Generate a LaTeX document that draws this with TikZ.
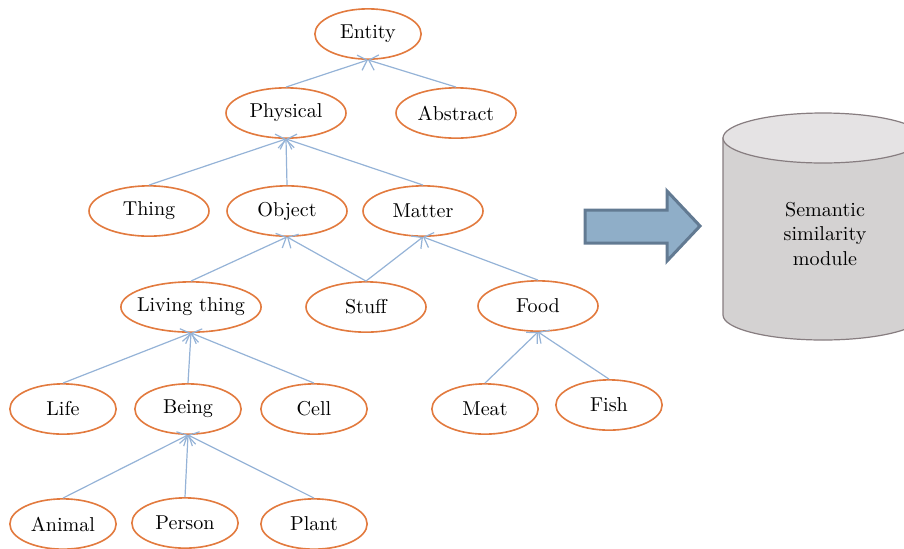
\documentclass[tikz,border=0pt]{standalone}
\usepackage{tikz}
\usetikzlibrary{shapes.geometric,arrows.meta}
\definecolor{nodeOrange}{RGB}{226,122,62}
\definecolor{edgeBlue}{RGB}{149,179,215}
\definecolor{arrowFill}{RGB}{143,174,200}
\definecolor{arrowDraw}{RGB}{98,122,146}
\definecolor{cylFill}{RGB}{212,210,210}
\definecolor{cylTop}{RGB}{229,227,228}
\definecolor{cylDraw}{RGB}{135,125,128}
\tikzset{
    concept/.style={ellipse, draw=nodeOrange, thick, minimum width=2.1cm, minimum height=0.88cm, inner sep=1pt},
    small/.style={concept, minimum width=1.86cm},
    wide/.style={concept, minimum width=2.45cm, inner xsep=-2.2pt},
    isa/.style={draw=edgeBlue, semithick, -{Straight Barb[length=4pt,width=8pt]}}
}
\begin{document}
\begin{tikzpicture}[x=0.0175cm, y=-0.0175cm]
        \useasboundingbox (0,0) rectangle (904,548);
        \clip (0,0) rectangle (904,548);
        % concept tree
        \node[small] (entity) at (368,34) {Entity};
        \node[concept] (physical) at (286,113) {Physical};
        \node[concept] (abstract) at (456,113) {Abstract};
        \node[concept] (thing) at (149,211) {Thing};
        \node[concept] (object) at (287,211) {Object};
        \node[concept] (matter) at (423,211) {Matter};
        \node[wide] (living) at (191,307) {Living thing};
        \node[concept] (stuff) at (366,307) {Stuff};
        \node[concept] (food) at (538,306) {Food};
        \node[small] (life) at (63,409) {Life};
        \node[small] (being) at (188,409) {Being};
        \node[small] (cell) at (314,409) {Cell};
        \node[small] (meat) at (485,409) {Meat};
        \node[small] (fish) at (609,405) {Fish};
        \node[small] (animal) at (63,524) {Animal};
        \node[small] (person) at (185,523) {Person};
        \node[small] (plant) at (314,524) {Plant};
        \draw[isa] (physical.north) -- (entity.south);
        \draw[isa] (abstract.north) -- (entity.south);
        \draw[isa] (thing.north) -- (physical.south);
        \draw[isa] (object.north) -- (physical.south);
        \draw[isa] (matter.north) -- (physical.south);
        \draw[isa] (living.north) -- (object.south);
        \draw[isa] (stuff.north) -- (object.south);
        \draw[isa] (stuff.north) -- (matter.south);
        \draw[isa] (food.north) -- (matter.south);
        \draw[isa] (life.north) -- (living.south);
        \draw[isa] (being.north) -- (living.south);
        \draw[isa] (cell.north) -- (living.south);
        \draw[isa] (meat.north) -- (food.south);
        \draw[isa] (fish.north) -- (food.south);
        \draw[isa] (animal.north) -- (being.south);
        \draw[isa] (person.north) -- (being.south);
        \draw[isa] (plant.north) -- (being.south);
        % block arrow
        \filldraw[fill=arrowFill, draw=arrowDraw, line width=1.5pt, line join=miter]
            (585,210) -- (667,210) -- (667,191) -- (700,226) -- (667,261) -- (667,243) -- (585,243) -- cycle;
        % module cylinder
        \filldraw[fill=cylFill, draw=cylDraw, semithick]
            (723,138) -- (723,315) arc[start angle=180, end angle=0, x radius=100, y radius=25] -- (923,138) -- cycle;
        \filldraw[fill=cylTop, draw=cylDraw, semithick] (823,138) ellipse [x radius=100, y radius=25];
        \node[align=center] (module) at (825,234) {Semantic\\similarity\\module};
      \end{tikzpicture}
\end{document}
